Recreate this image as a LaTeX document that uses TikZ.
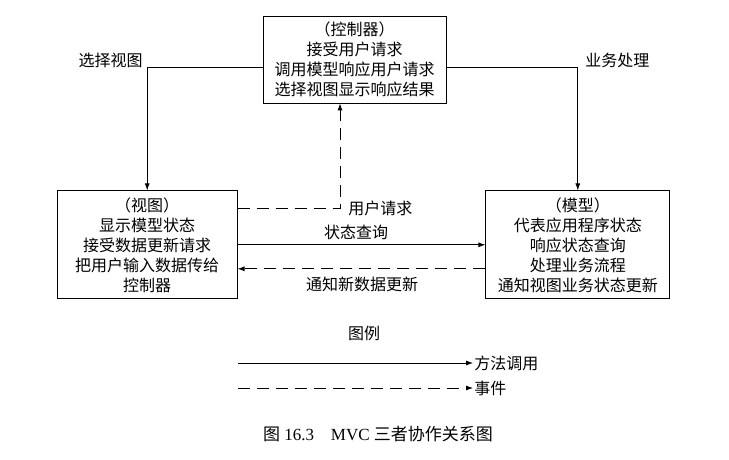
\documentclass[tikz,border=0pt]{standalone}
\usepackage{fontspec}
\setmainfont{Liberation Serif}
\newfontfamily\cjk{Noto Sans CJK SC}
\usepackage{tikz}
\usetikzlibrary{arrows.meta}
\usetikzlibrary{positioning}
\tikzset{
    mvcbox/.style = {draw, line width=0.8pt, align=center,
                 font=\cjk\fontsize{16}{20}\selectfont},
    lbl/.style = {font=\cjk\fontsize{16}{20}\selectfont, inner sep=1pt},
    evt/.style = {dash pattern=on 12pt off 7pt},
}

\begin{document}
\begin{tikzpicture}[x=1pt,y=-1pt,->,>={Latex[length=7pt,width=5pt]},line width=0.8pt]
\useasboundingbox (0,0) rectangle (729,460);
 \node (ctrl)  [mvcbox,minimum width=183pt,minimum height=87pt] at (354.5,59.5) {（控制器）\\接受用户请求\\调用模型响应用户请求\\选择视图显示响应结果};
 \node (view)  [mvcbox,minimum width=180pt,minimum height=108pt, below left=87pt and 25pt of ctrl] {（视图）\\显示模型状态\\接受数据更新请求\\把用户输入数据传给\\控制器};
 \node (model) [mvcbox,minimum width=184pt,minimum height=108pt, below right=87pt and 39pt of ctrl] {（模型）\\代表应用程序状态\\响应状态查询\\处理业务流程\\通知视图业务状态更新};

\node (sel)   [lbl,anchor=east] at (144,60) {选择视图};
\node (biz)   [lbl,anchor=west] at (584,60) {业务处理};
\node (req)   [lbl,anchor=west] at (347,208) {用户请求};
\node (query) [lbl] at (356,232) {状态查询};
\node (note)  [lbl] at (362,284) {通知新数据更新};

\draw[->] ([yshift=-7.5pt]ctrl.west) -| (view.north);
\draw[->] ([yshift=-7.5pt]ctrl.east) -| (model.north);
\draw[->,evt] ([yshift=36pt]view.east) -| ([xshift=-14.5pt]ctrl.south);
\draw[->] (view.east) to (model.west);
\draw[->,evt] ([yshift=-24pt]model.west) to ([yshift=-24pt]view.east);

% legend
\node (legend) [lbl] at (364,333) {图例};
\node (call)  [lbl,anchor=west] at (473,363) {方法调用};
\node (event) [lbl,anchor=west] at (473,388) {事件};
\coordinate (callstart) at (238,363);
\coordinate (eventstart) at (238,388);
\draw[->] (callstart) to (call.west);
\draw[->,evt] (eventstart) to (event.west);

\node (caption) [font=\fontsize{17}{20}\selectfont] at (378,434) {{\cjk 图} 16.3\quad MVC {\cjk 三者协作关系图}};
\end{tikzpicture}
\end{document}
